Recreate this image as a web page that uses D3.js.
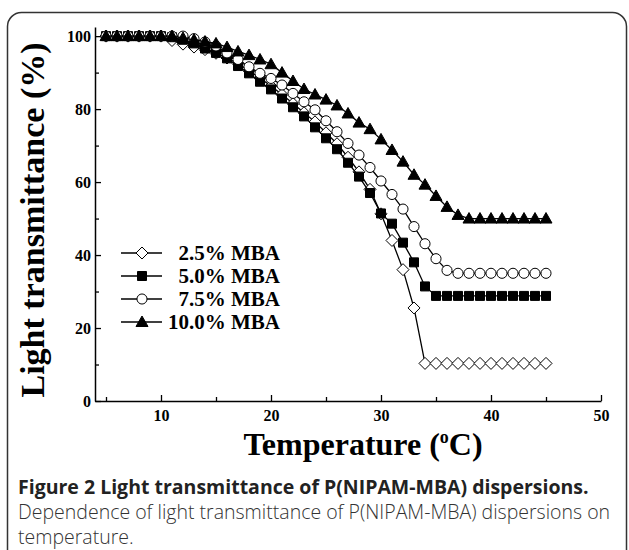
<!DOCTYPE html>
<head>
  <meta charset="utf-8" />
  <script src="https://cdn.jsdelivr.net/npm/d3@7"></script>
  <style>
    body { margin: 0; background: #fff; }
    svg { display: block; }
  </style>
</head>
<body>
  <svg width="629" height="550"></svg>
  <script>
    // temperatures, 5..45 degC step 1
    const temps = d3.range(5, 46);
    const mba25 = [100,100,100,100,100,100,98.8,97.8,97,96.3,95.3,94,92.5,90.5,88.5,86.3,84,81.5,79,76.5,73.5,70.5,66.8,62.8,58,51.3,44,36,25.5,10.3,10.3,10.3,10.3,10.3,10.3,10.3,10.3,10.3,10.3,10.3,10.3];
    const mba50 = [100,100,100,100,100,100,99.7,99,98,96.6,95.4,93.9,91.8,89.8,87.5,85.4,82.9,80.5,78,75,72,69,65.3,61.5,57,51.4,48.6,43.4,38,31.4,28.8,28.8,28.8,28.8,28.8,28.8,28.8,28.8,28.8,28.8,28.8];
    const mba75 = [100,100,100,100,100,100,100,100,99.3,98.4,97.3,95.4,93.6,91.6,89.8,88.4,86.6,84.3,82,79.8,76.8,73.8,70.6,67.4,64,60.3,56.6,52.6,47.8,43.1,39,35.8,35,35,35,35,35,35,35,35,35];
    const mba100 = [100,100,100,100,100,100,100,99.5,99,98.5,98,97,95.8,94.8,93.6,92.3,90,87.7,85.5,84,82.6,81,78.8,76.3,74.5,71.7,68.8,65.6,62,59.3,56.2,53.2,51,50,50,50,50,50,50,50,50];
    const labels = ["2.5% MBA", "5.0% MBA", "7.5% MBA", "10.0% MBA"];
    const markers = ["diamond", "square", "circle", "triangle"];
    const xTicks = [10, 20, 30, 40, 50];
    const yTicks = [0, 20, 40, 60, 80, 100];

    const series = [mba25, mba50, mba75, mba100].map((vals, i) => ({
      label: labels[i], marker: markers[i],
      pts: vals.map((v, j) => [temps[j], v])
    }));

    const svg = d3.select("svg");
    const serif = "'Liberation Serif', 'Times New Roman', serif";

    // rounded frame of the figure
    svg.append("rect")
      .attr("x", 7.5).attr("y", 12.5).attr("width", 619).attr("height", 600)
      .attr("rx", 14).attr("fill", "none").attr("stroke", "#333").attr("stroke-width", 1.5);

    const xScale = d3.scaleLinear().domain([4, 50]).range([95, 601]);
    const yScale = d3.scaleLinear().domain([0, 102.5]).range([401, 27]);

    // axes
    const xAxis = d3.axisBottom(xScale).tickValues(d3.range(5, 51, 5))
      .tickSize(0).tickFormat(d => xTicks.includes(d) ? d : "");
    const gx = svg.append("g").attr("transform", "translate(0,401)").call(xAxis);
    gx.select(".domain").attr("stroke-width", 1.5);
    gx.selectAll(".tick line").attr("y2", d => d % 10 === 0 ? -6 : -4).attr("stroke-width", 1.3);
    gx.selectAll("text").attr("y", 9).attr("dy", "0.71em")
      .style("font-family", serif).style("font-weight", "bold").style("font-size", "16px");

    const yAxis = d3.axisLeft(yScale).tickValues(d3.range(0, 101, 10))
      .tickSize(0).tickPadding(4).tickFormat(d => yTicks.includes(d) ? d : "");
    const gy = svg.append("g").attr("transform", "translate(95,0)").call(yAxis);
    gy.select(".domain").attr("stroke-width", 1.5);
    gy.selectAll(".tick line").attr("x2", d => d % 20 === 0 ? 6 : 4).attr("stroke-width", 1.3);
    gy.selectAll("text")
      .style("font-family", serif).style("font-weight", "bold").style("font-size", "16px");

    // marker shapes
    function markerPath(type) {
      if (type === "diamond") return "M0,-6L6,0L0,6L-6,0Z";
      if (type === "square") return "M-4.5,-4.5H4.5V4.5H-4.5Z";
      if (type === "circle") return d3.symbol(d3.symbolCircle, 80)();
      return "M0,-6L6,4.5L-6,4.5Z";
    }
    const filled = t => t === "square" || t === "triangle";

    const line = d3.line().x(d => xScale(d[0])).y(d => yScale(d[1]));

    series.forEach(s => {
      const g = svg.append("g");
      g.append("path").attr("d", line(s.pts))
        .attr("fill", "none").attr("stroke", "#000").attr("stroke-width", 1.3);
      g.selectAll("path.m").data(s.pts).enter().append("path").attr("class", "m")
        .attr("d", markerPath(s.marker))
        .attr("transform", d => `translate(${xScale(d[0])},${yScale(d[1])})`)
        .attr("fill", filled(s.marker) ? "#000" : "#fff")
        .attr("stroke", "#000").attr("stroke-width", 1);
    });

    // legend
    const legend = svg.append("g");
    series.forEach((s, i) => {
      const y = 253 + i * 23;
      legend.append("line").attr("x1", 121).attr("x2", 162).attr("y1", y).attr("y2", y)
        .attr("stroke", "#000").attr("stroke-width", 1.3);
      legend.append("path").attr("d", markerPath(s.marker))
        .attr("transform", `translate(142,${y})`)
        .attr("fill", filled(s.marker) ? "#000" : "#fff")
        .attr("stroke", "#000").attr("stroke-width", 1);
      legend.append("text").attr("x", 280).attr("y", y).attr("dy", "0.35em")
        .attr("text-anchor", "end")
        .style("font-family", serif).style("font-weight", "bold").style("font-size", "21px")
        .text(s.label);
    });

    // axis titles
    svg.append("text")
      .attr("transform", "translate(44,220) rotate(-90)")
      .attr("text-anchor", "middle")
      .style("font-family", serif).style("font-weight", "bold").style("font-size", "34px")
      .text("Light transmittance (%)");

    const xt = svg.append("text").attr("x", 363).attr("y", 455).attr("text-anchor", "middle")
      .style("font-family", serif).style("font-weight", "bold").style("font-size", "32px");
    xt.append("tspan").text("Temperature (");
    xt.append("tspan").attr("dy", -12).style("font-size", "18px").text("o");
    xt.append("tspan").attr("dy", 12).text("C)");

    // caption
    const sans = "'Open Sans', 'Noto Sans', sans-serif";
    svg.append("text").attr("x", 18).attr("y", 494)
      .style("font-family", sans).style("font-weight", "bold").style("font-size", "19.5px").attr("fill", "#222")
      .text("Figure 2 Light transmittance of P(NIPAM-MBA) dispersions.");
    svg.append("text").attr("x", 18).attr("y", 519)
      .style("font-family", sans).style("font-weight", "300").style("font-size", "19.5px").attr("fill", "#333")
      .text("Dependence of light transmittance of P(NIPAM-MBA) dispersions on");
    svg.append("text").attr("x", 18).attr("y", 544)
      .style("font-family", sans).style("font-weight", "300").style("font-size", "19.5px").attr("fill", "#333")
      .text("temperature.");
  </script>
</body>
